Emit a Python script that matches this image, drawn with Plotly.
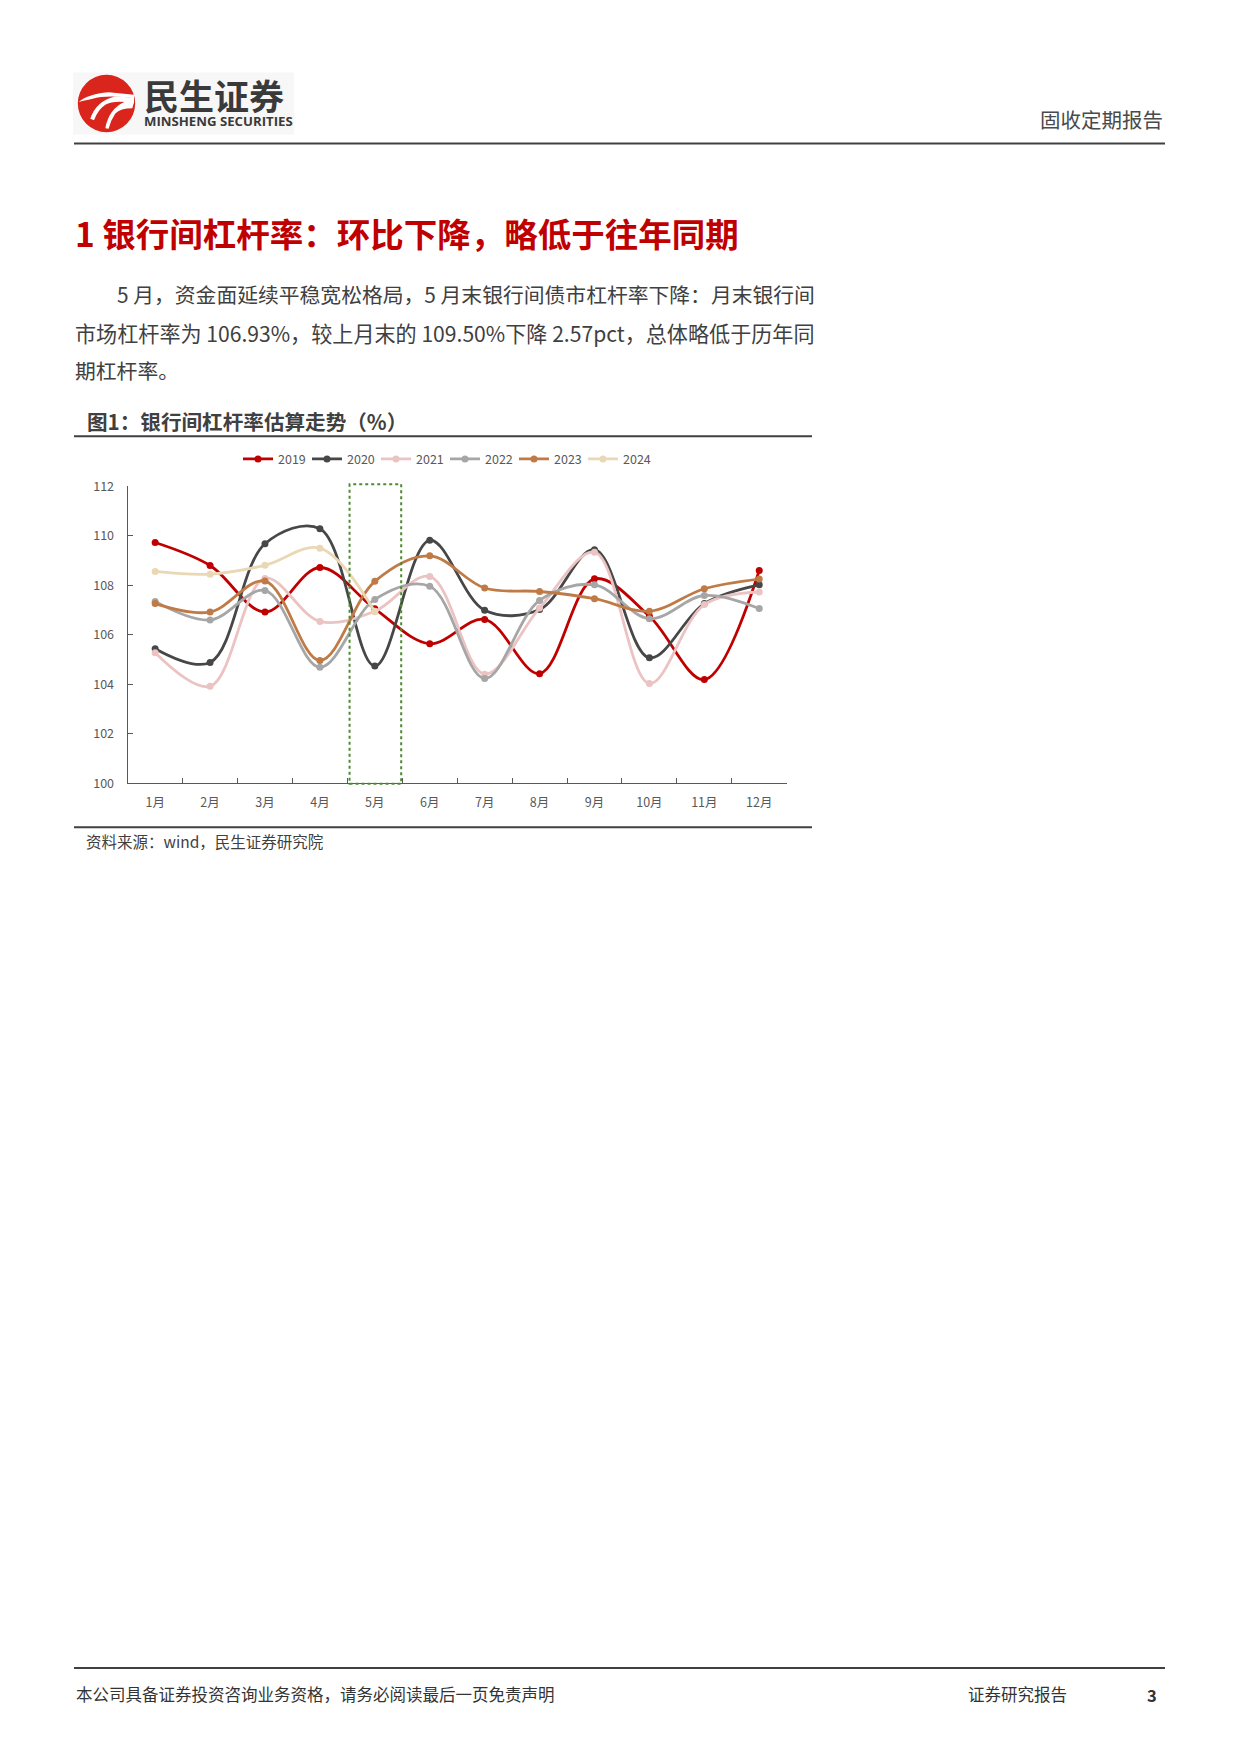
import plotly.graph_objects as go

W, H = 1240, 1754
# the captured page is slightly squeezed vertically: rendered_y ~= SY * figure_y + OFF
SY, OFF = 0.9895, 9.5

months = ["1月", "2月", "3月", "4月", "5月", "6月", "7月", "8月", "9月", "10月", "11月", "12月"]
years = ["2019", "2020", "2021", "2022", "2023", "2024"]
colors = ["#C00000", "#474747", "#EBC3C3", "#A6A6A6", "#C07A45", "#EAD8B5"]

v2019 = [109.73, 108.80, 106.92, 108.72, 107.05, 105.64, 106.62, 104.43, 108.26, 106.75, 104.19, 108.60]
v2020 = [105.44, 104.88, 109.68, 110.29, 104.74, 109.82, 106.99, 107.02, 109.44, 105.07, 107.26, 108.02]
v2021 = [105.27, 103.92, 108.28, 106.54, 106.95, 108.36, 104.41, 107.08, 109.34, 104.03, 107.22, 107.73]
v2022 = [107.35, 106.60, 107.79, 104.69, 107.43, 107.96, 104.23, 107.39, 108.02, 106.65, 107.59, 107.06]
v2023 = [107.26, 106.92, 108.17, 104.96, 108.16, 109.19, 107.89, 107.75, 107.46, 106.95, 107.86, 108.25]
v2024 = [108.56, 108.45, 108.81, 109.50, 106.93]
series = [v2019, v2020, v2021, v2022, v2023, v2024]

yticks = [100, 102, 104, 106, 108, 110, 112]

FONT = "Noto Sans CJK SC"
TXT = "#404040"


def px(x):
    return x / W


def py(y):
    return 1 - ((y - OFF) / SY) / H


fig = go.Figure()
for name, vals, col in zip(years, series, colors):
    fig.add_trace(go.Scatter(
        x=months[:len(vals)], y=vals, name=name, mode="lines+markers",
        line=dict(color=col, width=2.8, shape="spline", smoothing=1.0),
        marker=dict(color=col, size=7),
    ))

shapes = []
annotations = []


def hline(y, x0, x1, width=2, color="#404040"):
    shapes.append(dict(type="line", xref="paper", yref="paper", x0=px(x0), x1=px(x1),
                       y0=py(y), y1=py(y), line=dict(color=color, width=width)))


def text(x, y, s, size, color=TXT, anchor="left", weight="normal", family=FONT):
    annotations.append(dict(x=px(x), y=py(y), xref="paper", yref="paper", text=s,
                            showarrow=False, xanchor=anchor, yanchor="middle", align="left",
                            font=dict(family=family, size=size, color=color, weight=weight)))


# header logo
shapes.append(dict(type="rect", xref="paper", yref="paper", x0=px(73), x1=px(294), y0=py(133), y1=py(71),
                   fillcolor="#F7F7F7", line=dict(width=0), layer="below"))
cx, cy, r = 106.5, 102, 28.7
shapes.append(dict(type="circle", xref="paper", yref="paper", x0=px(cx - r), x1=px(cx + r),
                   y0=py(cy + r), y1=py(cy - r), fillcolor="#DA251D", line=dict(width=0)))

LX, LY = 72, 70  # logo reference origin; stripe points in 1/3-pixel units


def pth(pts):
    cmds = []
    for c, *xy in pts:
        coords = " ".join(f"{px(LX + xy[i] / 3):.5f},{py(LY + xy[i + 1] / 3):.5f}"
                          for i in range(0, len(xy), 2))
        cmds.append(f"{c} {coords}")
    return " ".join(cmds) + " Z"


stripes = [
    [("M", 20, 92), ("Q", 45, 68, 110, 62), ("L", 186, 70), ("L", 186, 80),
     ("Q", 100, 70, 62, 82), ("Q", 35, 88, 20, 92)],
    [("M", 55, 142), ("Q", 72, 88, 130, 75), ("L", 186, 78), ("L", 186, 95),
     ("Q", 125, 85, 100, 100), ("Q", 78, 115, 66, 146)],
    [("M", 100, 170), ("Q", 110, 112, 160, 90), ("L", 186, 92), ("L", 181, 110),
     ("Q", 145, 110, 130, 126), ("Q", 116, 146, 110, 172)],
]
for st in stripes:
    shapes.append(dict(type="path", xref="paper", yref="paper", path=pth(st),
                       fillcolor="white", line=dict(width=0)))

text(142, 98.2,
     "<span style='font-size:35px;font-weight:bold'>民生证券</span><br>"
     "<span style='font-family:Open Sans;font-size:13.2px;font-weight:bold'>MINSHENG SECURITIES</span>",
     12, color="#3A3A3A")
text(1165, 118, "固收定期报告", 20.5, color="#4A4A4A", anchor="right")
hline(142, 74, 1165, 2, "#404040")

# section title and body
text(73, 231, "1 银行间杠杆率：环比下降，略低于往年同期", 33.5, color="#C00000", weight="bold")
text(115, 293, "5 月，资金面延续平稳宽松格局，5 月末银行间债市杠杆率下降：月末银行间", 20.8)
text(73, 332, "市场杠杆率为 106.93%，较上月末的 109.50%下降 2.57pct，总体略低于历年同", 21.1)
text(73, 369, "期杠杆率。", 20.8)

# figure caption
text(85, 420, "图1：银行间杠杆率估算走势（%）", 20.6, color="#404040", weight="bold")
hline(435, 74, 812, 2, "#404040")
hline(826, 74, 812, 2, "#404040")
text(84, 840, "资料来源：wind，民生证券研究院", 15.5, color="#404040")

# highlight box for May
shapes.append(dict(type="rect", xref="x", yref="paper", x0=3.54, x1=4.48,
                   y0=py(782.5), y1=py(483), line=dict(color="#4E8A2E", width=2, dash="dot"),
                   fillcolor="rgba(0,0,0,0)"))

# footer
hline(1667, 74, 1165, 2, "#404040")
text(74, 1693, "本公司具备证券投资咨询业务资格，请务必阅读最后一页免责声明", 16.5, color="#333333")
text(966, 1693, "证券研究报告", 16.5, color="#333333")
text(1152, 1694, "3", 16.5, color="#333333", anchor="center", weight="bold")

fig.update_layout(
    width=W, height=H,
    margin=dict(l=0, r=0, t=0, b=0),
    paper_bgcolor="white", plot_bgcolor="white",
    showlegend=True,
    legend=dict(orientation="h", x=px(445), y=py(458), xanchor="center", yanchor="middle",
                font=dict(family=FONT, size=12.5, color="#595959"),
                entrywidth=24, entrywidthmode="pixels", itemwidth=30,
                bgcolor="rgba(0,0,0,0)"),
    xaxis=dict(domain=[px(127.7), px(786.7)], type="category", categoryorder="array",
               categoryarray=months, tickson="boundaries", ticks="inside", ticklen=5,
               tickcolor="#595959", showline=True, linecolor="#595959", linewidth=1.3,
               showgrid=False, zeroline=False, ticklabelstandoff=8,
               tickfont=dict(family=FONT, size=12.5, color="#595959"),
               range=[-0.5, 11.5]),
    yaxis=dict(domain=[py(782), py(485)], range=[100, 112], tickvals=yticks,
               ticks="inside", ticklen=5, tickcolor="#595959", showline=True,
               linecolor="#595959", linewidth=1.3, showgrid=False, zeroline=False,
               ticklabelstandoff=10,
               tickfont=dict(family=FONT, size=12.5, color="#595959")),
    shapes=shapes, annotations=annotations,
)

fig.write_html("out.html")
